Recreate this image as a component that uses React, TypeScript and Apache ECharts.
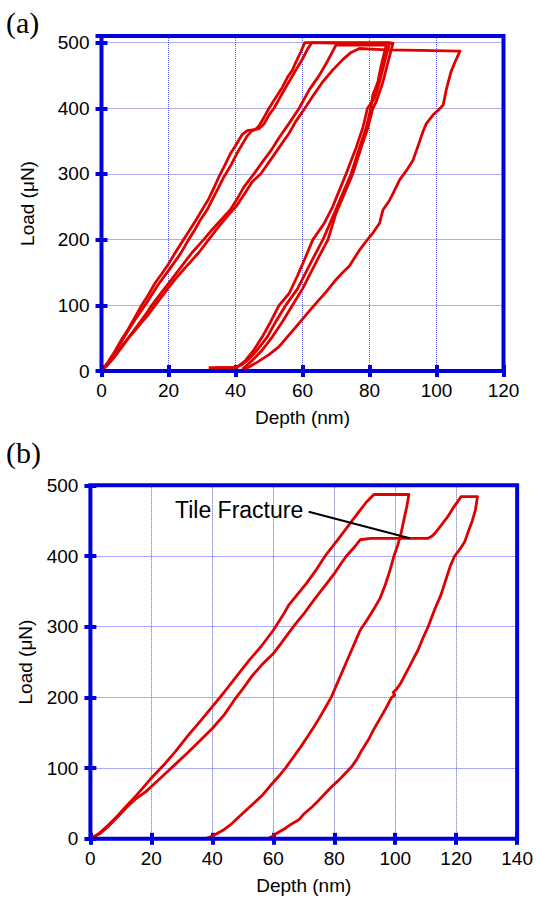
import React, { useEffect, useRef } from 'react';
import * as echarts from 'echarts';

// ---------- Panel (a): depth (nm) vs load (uN) ----------
const A_X_TICKS = [0, 20, 40, 60, 80, 100, 120];
const A_Y_TICKS = [0, 100, 200, 300, 400, 500];

const A1_LOAD = [[0,0],[2,14],[4,30],[6,48],[8,64],[10,82],[12,100],[14,116],[16,134],[18,148],[20,163],[22,180],[24.5,200],[26,212],[28,228],[30,245],[32,262],[33.5,278],[35,295],[36.5,310],[38.5,331],[40,343],[42,360],[43.5,366],[45,367],[46,368],[47,373],[48.5,386],[50,400],[52,416],[54,432],[55.5,447],[57,458],[58,470],[59.5,486],[60.7,500]];
const A1_HOLD = [[60.7,500],[68,500],[76,500],[86,500]];
const A1_UNLOAD = [[86,500],[84.5,470],[83,440],[81.5,415],[79.4,400],[78,370],[76,340],[73,300],[71,275],[69,250],[66.5,225],[63.1,200],[60.8,172],[58.5,145],[56,118],[53,100],[50.5,75],[48,52],[45.5,32],[43,16],[41,8],[40,5],[36,5],[32,5]];

const A2_LOAD = [[0,0],[2,12],[4,28],[6,45],[8,62],[10,78],[13,100],[15,116],[17,132],[19,146],[21,160],[23.5,178],[26,200],[28,216],[29.5,230],[31.5,245],[33,260],[35,280],[36.5,295],[38.5,312],[40.4,331],[42,345],[43.5,358],[45,366],[46.3,368],[47,369],[48.5,376],[50,390],[51.5,400],[53,414],[55,432],[56.5,445],[58,458],[60,475],[61.5,490],[62.8,500]];
const A2_HOLD = [[62.8,500],[72,499],[80,499],[87,499]];
const A2_UNLOAD = [[87,499],[85.5,470],[84,440],[82,410],[81,400],[79.5,370],[77.5,340],[75,300],[72.5,270],[70,240],[67.6,200],[65,175],[62.5,150],[60,125],[57,100],[54,75],[51,52],[48,32],[45,16],[43,7],[42,3]];

const A3_LOAD = [[0,0],[2,10],[4,22],[6,36],[8,50],[10,64],[12,78],[14,92],[15,100],[18,120],[21,140],[24,160],[27,180],[30.5,200],[33,215],[36,232],[38.4,245],[40.5,262],[42.5,280],[45.5,300],[48,318],[50.5,335],[53,355],[56,377],[59,400],[62,428],[65,450],[67.5,472],[70,496]];
const A3_HOLD = [[70,496],[78,496],[85,496]];
const A3_UNLOAD = [[85,496],[83.5,465],[82.5,440],[81,420],[80.4,400],[79,370],[77,340],[74.5,300],[72,270],[69.5,240],[66.1,200],[63.5,175],[61,150],[58.5,125],[55,100],[52,75],[49.5,52],[46.5,32],[44,18],[42,10],[40.4,6],[38,5],[34,5]];

const A4_LOAD = [[0,2],[2,12],[4,24],[6,37],[8,50],[10,62],[12,74],[14,86],[16,100],[19,120],[22,140],[25.5,160],[29,180],[32,200],[35,220],[38,238],[40.4,252],[43,272],[45,288],[47.5,300],[50,318],[53,340],[56,362],[58,380],[60.7,400],[63,418],[66,440],[69,458],[72,474],[74.5,485],[77,491]];
const A4_HOLD = [[77,491],[85,489],[95,488],[107,487]];
const A4_UNLOAD = [[107,487],[105.5,470],[104.3,455],[103,430],[102,405],[100.5,397],[99,390],[97,377],[96,365],[95,350],[93,321],[91,305],[89,291],[87,270],[86,260],[84,245],[83,225],[81,210],[80,204],[77,184],[74,160],[72,150],[70,139],[67,120],[64,103],[61.5,88],[59,73],[56,55],[53,37],[50,25],[47,15],[44,6],[42.3,1]];

// ---------- Panel (b) ----------
const B_X_TICKS = [0, 20, 40, 60, 80, 100, 120, 140];
const B_Y_TICKS = [0, 100, 200, 300, 400, 500];

const B1_LOAD = [[0,0],[3,8],[6,20],[9,33],[12,47],[15,61],[18,76],[20,86],[24,104],[28,124],[32,146],[36,166],[40,187],[44,208],[48,230],[52,252],[56,272],[60,295],[63,315],[65,330],[68,346],[71,362],[74,380],[77,400],[81,422],[85,445],[88,462],[90.5,476],[93,487]];
const B1_HOLD = [[93,487],[99,487],[104.5,487]];
const B1_UNLOAD = [[104.5,487],[103.8,470],[102.8,450],[101.8,430],[100.8,415],[99.6,400],[98.3,380],[96.8,360],[95,340],[93,325],[90.8,310],[88.5,295],[87,280],[85.7,267],[84,250],[82.5,235],[80.8,218],[79,200],[77,185],[75,170],[73.3,158],[71,143],[69,130],[66.5,115],[64,100],[61.5,87],[59,75],[56.5,62],[53.5,50],[51,40],[48.5,30],[46,20],[43.5,12],[41,6],[39,2],[37.5,0]];

const B2_LOAD = [[0,0],[3,7],[6,18],[9,31],[12,45],[15,57],[18,66],[20,74],[24,90],[28,106],[32,122],[36,139],[40,156],[44,176],[47,195],[50,212],[53,230],[56,245],[60,262],[62.5,276],[65,291],[67.5,305],[70,318],[72.5,333],[75,347],[77.5,361],[80,375],[82,388],[84,400],[86.5,412],[88.5,423]];
const B2_FRACTURE = [[88.5,423],[92,425],[96,425],[100,425],[104,425],[108,425],[110.8,425],[112,428],[113,432],[115,443],[117.3,456],[119,468],[120.5,477],[121.6,484]];
const B2_HOLD = [[121.6,484],[124,484],[127,484]];
const B2_UNLOAD = [[127,484],[126.3,465],[125.3,450],[124,435],[122.8,420],[121.3,410],[119.5,400],[118,385],[116.5,365],[115,345],[113,325],[110.8,300],[109,283],[107.5,267],[106,255],[104.5,242],[103,230],[101.8,220],[100.5,212],[99.3,207],[99.8,203],[98.8,200],[97,185],[95,170],[93,155],[91.2,140],[89,125],[87.5,113],[85.7,102],[83.5,92],[81.5,83],[79.2,74],[77,64],[75,55],[72.7,45],[70,35],[68.4,27],[66,21],[64,15],[62,10],[60.5,6],[59.5,3],[58.5,1]];

const ANNOT_TEXT = 'Tile Fracture';
const ANNOT_LINE = [[71.6,462.6],[104.8,425]];

const BLUE = '#0000dd';
const RED = '#e00000';
const GRIDC = '#5a5ae6';
const SANS = '"Liberation Sans", Arial, sans-serif';
const SERIF = '"Liberation Serif", "Times New Roman", serif';

function curve(...parts: number[][][]) {
  const out: number[][] = [];
  parts.forEach((p) => p.forEach((pt) => out.push(pt)));
  return out;
}

function makeX(grid: number, max: number, ticks: number[], bottom: boolean) {
  const interval = ticks[1] - ticks[0];
  return {
    gridIndex: grid,
    type: 'value',
    min: ticks[0],
    max,
    interval,
    position: bottom ? 'bottom' : 'top',
    axisLine: { show: false },
    axisTick: { show: true, inside: true, length: 6, lineStyle: { color: BLUE, width: 4 } },
    axisLabel: bottom
      ? { show: true, margin: 10, color: '#000', fontSize: 19, fontFamily: SANS }
      : { show: false },
    splitLine: bottom
      ? { show: true, lineStyle: { color: GRIDC, width: 1, type: [1, 1] } }
      : { show: false },
    name: bottom ? 'Depth (nm)' : '',
    nameLocation: 'middle',
    nameGap: 37,
    nameTextStyle: { color: '#000', fontSize: 19, fontFamily: SANS },
  };
}

function makeY(grid: number, max: number, ticks: number[], left: boolean, gap: number) {
  const interval = ticks[1] - ticks[0];
  const last = ticks[ticks.length - 1];
  return {
    gridIndex: grid,
    type: 'value',
    min: ticks[0],
    max,
    interval,
    position: left ? 'left' : 'right',
    axisLine: { show: false },
    axisTick: { show: true, inside: true, length: 6, lineStyle: { color: BLUE, width: 4 } },
    axisLabel: left
      ? {
          show: true,
          margin: 12,
          color: '#000',
          fontSize: 19,
          fontFamily: SANS,
          formatter: (v: number) => (v % interval === 0 && v <= last ? String(v) : ''),
        }
      : { show: false },
    splitLine: left
      ? { show: true, lineStyle: { color: GRIDC, width: 1, type: [1, 1] } }
      : { show: false },
    name: left ? 'Load (μN)' : '',
    nameLocation: 'middle',
    nameGap: gap,
    nameTextStyle: { color: '#000', fontSize: 19, fontFamily: SANS },
  };
}

function lineSeries(data: number[][], axis: number, color = RED, width = 2.8) {
  return {
    type: 'line',
    xAxisIndex: axis,
    yAxisIndex: axis,
    data,
    showSymbol: false,
    symbol: 'none',
    lineStyle: { color, width, join: 'round' },
    silent: true,
    z: 3,
  };
}

export default function App() {
  const ref = useRef<HTMLDivElement>(null);
  useEffect(() => {
    if (!ref.current) return;
    const chart = echarts.init(ref.current, undefined, { renderer: 'svg' });
    const option = {
      animation: false,
      backgroundColor: '#fff',
      grid: [
        { left: 101.5, top: 36, width: 402, height: 335, show: true, borderColor: BLUE, borderWidth: 4, backgroundColor: 'transparent', z: 4 },
        { left: 90.4, top: 485.3, width: 429.1, height: 353.5, show: true, borderColor: BLUE, borderWidth: 4, backgroundColor: 'transparent', z: 4 },
      ],
      xAxis: [
        makeX(0, 120, A_X_TICKS, true),
        makeX(0, 120, A_X_TICKS, false),
        makeX(1, 140, B_X_TICKS, true),
        makeX(1, 140, B_X_TICKS, false),
      ],
      yAxis: [
        makeY(0, 510, A_Y_TICKS, true, 65),
        makeY(0, 510, A_Y_TICKS, false, 0),
        makeY(1, 500, B_Y_TICKS, true, 55),
        makeY(1, 500, B_Y_TICKS, false, 0),
      ],
      series: [
        lineSeries(curve(A1_LOAD, A1_HOLD, A1_UNLOAD), 0),
        lineSeries(curve(A2_LOAD, A2_HOLD, A2_UNLOAD), 0),
        lineSeries(curve(A3_LOAD, A3_HOLD, A3_UNLOAD), 0),
        lineSeries(curve(A4_LOAD, A4_HOLD, A4_UNLOAD), 0),
        lineSeries(curve(B1_LOAD, B1_HOLD, B1_UNLOAD), 2),
        lineSeries(curve(B2_LOAD, B2_FRACTURE, B2_HOLD, B2_UNLOAD), 2),
        lineSeries(ANNOT_LINE, 2, '#000', 2),
      ],
      graphic: [
        { type: 'text', left: 6, top: 7, style: { text: '(a)', fontSize: 30, fontFamily: SERIF, fill: '#000' } },
        { type: 'text', left: 6, top: 437, style: { text: '(b)', fontSize: 30, fontFamily: SERIF, fill: '#000' } },
        { type: 'text', left: 175, top: 498, style: { text: ANNOT_TEXT, fontSize: 23, fontFamily: SANS, fill: '#000' } },
      ],
    };
    chart.setOption(option as any);
    return () => chart.dispose();
  }, []);
  return (
    <div
      ref={ref}
      style={{ position: 'absolute', left: 0, top: 0, width: 536, height: 899, background: '#fff' }}
    />
  );
}
